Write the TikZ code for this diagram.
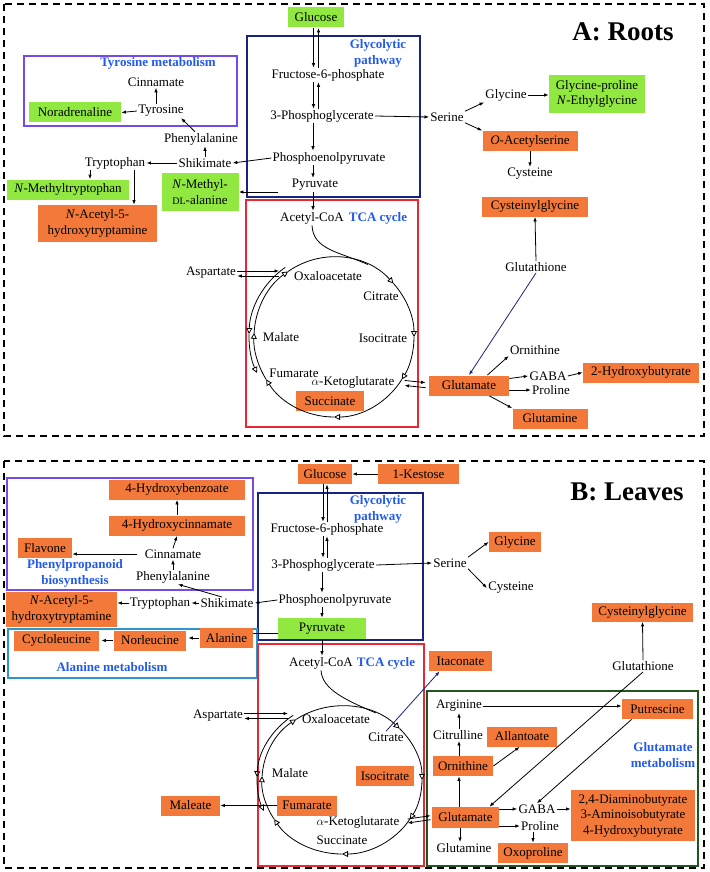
\documentclass[tikz,border=0pt]{standalone}
\usepackage{fontspec}
\setmainfont{Liberation Serif}
\usetikzlibrary{arrows.meta}
\definecolor{orng}{RGB}{242,121,58}
\definecolor{limegrn}{RGB}{144,232,64}
\definecolor{pathblue}{RGB}{35,90,235}
\definecolor{glynavy}{RGB}{25,35,130}
\definecolor{tcared}{RGB}{232,40,52}
\definecolor{tyrviolet}{RGB}{115,75,235}
\definecolor{alacyan}{RGB}{45,150,205}
\definecolor{glugreen}{RGB}{35,85,35}

\begin{document}
\begin{tikzpicture}[x=1pt,y=-1pt,line width=0.8pt,font=\fontsize{13}{15.5}\selectfont,
	every node/.style={inner sep=1pt},
	obox/.style={fill=orng,inner xsep=4pt,minimum height=20pt},
	gbox/.style={fill=limegrn,inner xsep=4pt,minimum height=20pt},
	ttl/.style={text=pathblue,font=\fontsize{13}{16}\selectfont\bfseries,align=center},
	paneltitle/.style={font=\fontsize{27}{30}\selectfont\bfseries},
	areabox/.style={line width=1.3pt},
	outer/.style={line width=1.6pt,dash pattern=on 7pt off 5pt},
	cyc/.style={-{Triangle[open,length=6pt,width=6pt]}},
	>={Latex[length=4.5pt,width=3.5pt]}]
	\useasboundingbox (0,0) rectangle (709,872);
	% A: Roots
	\draw[outer] (4,4) rectangle (704,436);
	\node[paneltitle] (ttlA) at (623,32) {A: Roots};
	\draw[areabox,glynavy] (247,36) rectangle (420,197);
	\draw[areabox,tcared] (246,200) rectangle (418,427);
	\draw[areabox,tyrviolet] (24,56) rectangle (237,126);
	\node[ttl] (glyttlA) at (378,53.5) {Glycolytic\\pathway};
	\node[ttl] (tcattlA) at (378,218) {TCA cycle};
	\node[ttl] (tyrttlA) at (158,63) {Tyrosine metabolism};

	\node[gbox,minimum width=56] (glcA) at (316,17.5) {Glucose};
	\node (f6pA) at (328,75) {Fructose-6-phosphate};
	\node (pgaA) at (322,116) {3-Phosphoglycerate};
	\node (pepA) at (329,158) {Phosphoenolpyruvate};
	\node (pyrA) at (315,185) {Pyruvate};
	\node (acoA) at (312,218) {Acetyl-CoA};
	\node (serA) at (447,117) {Serine};
	\node (glyA) at (506,95) {Glycine};
	\node[gbox,align=center,minimum width=96,minimum height=38] (gpeA) at (597,94) {Glycine-proline\\\textit{N}-Ethylglycine};
	\node[obox,minimum width=95] (oasA) at (530,141) {\textit{O}-Acetylserine};
	\node (cysA) at (530,174) {Cysteine};
	\node[obox,minimum width=106] (cygA) at (535,206.5) {Cysteinylglycine};
	\node (gshA) at (536,267) {Glutathione};
	\node[obox,minimum width=80] (gluA) at (469,385.5) {Glutamate};
	\node (ornA) at (535,350) {Ornithine};
	\node (gabA) at (548,376) {GABA};
	\node (proA) at (551,390) {Proline};
	\node[obox,minimum width=116] (hbuA) at (641,372.5) {2-Hydroxybutyrate};
	\node[obox,minimum width=75] (glnA) at (550,418.5) {Glutamine};

	\node (cinA) at (156,82) {Cinnamate};
	\node (tyrA) at (161,111) {Tyrosine};
	\node[gbox,minimum width=92] (norA) at (75,112.5) {Noradrenaline};
	\node (pheA) at (201,139) {Phenylalanine};
	\node (shkA) at (205,163) {Shikimate};
	\node (trpA) at (115,163) {Tryptophan};
	\node[gbox,minimum width=122] (mtrA) at (68,189.5) {\textit{N}-Methyltryptophan};
	\node[gbox,align=center,minimum width=77,minimum height=38] (malA) at (200,192) {\textit{N}-Methyl-\\{\fontsize{10}{12}\selectfont DL}-alanine};
	\node[obox,align=center,minimum width=119,minimum height=37] (nahA) at (97.5,223.5) {\textit{N}-Acetyl-5-\\hydroxytryptamine};

	\coordinate (cA) at (334,337);
	\node (aspA) at (211,273) {Aspartate};
	\coordinate (oaA) at (279,273);
	\node (oaaA) at (328,276) {Oxaloacetate};
	\node (citA) at (381,296) {Citrate};
	\node (icA) at (383,338) {Isocitrate};
	\node (akgA) at (353,382) {$\alpha$-Ketoglutarate};
	\node (fumA) at (294,373) {Fumarate};
	\node (mlaA) at (281,337) {Malate};
	\node[obox,minimum width=68] (sucA) at (330,401) {Succinate};

	\draw[<-] ([xshift=-2.5pt]glcA.south |- f6pA.north) -- ([xshift=-2.5pt]glcA.south);
	\draw[->] ([xshift=2.5pt]glcA.south |- f6pA.north) -- ([xshift=2.5pt]glcA.south);
	\draw[<-] ([xshift=-2.5pt]glcA.south |- pgaA.north) -- ([xshift=-2.5pt]glcA.south |- f6pA.south);
	\draw[->] ([xshift=2.5pt]glcA.south |- pgaA.north) -- ([xshift=2.5pt]glcA.south |- f6pA.south);
	\draw[->] ([xshift=-2pt]pyrA.north |- pgaA.south) -- ([xshift=-2pt]pyrA.north |- pepA.north);
	\draw[->] ([xshift=-2pt]pyrA.north |- pepA.south) -- ([xshift=-2pt]pyrA.north);
	\draw[->] ([xshift=-2pt]pyrA.south) -- ([xshift=-2pt]pyrA.south |- acoA.north);
	\draw[->] (pgaA.east) -- (serA.west);
	\draw[->] (serA.north east) -- (glyA.south west);
	\draw[->] (glyA.east) -- (gpeA.west |- glyA.east);
	\draw[->] (serA.south east) -- (oasA.north west);
	\draw[->] (oasA.south) -- (cysA.north);
	\draw[->] (gshA.north) -- (cygA.south);
	\draw[->,glynavy] (gshA.south) -- (gluA.north);
	\draw[->] ([xshift=-22pt]gluA.north east) -- (ornA.south west);
	\draw[->] ([yshift=7pt]gluA.east) -- (gabA.west);
	\draw[->] (gluA.east |- proA.west) -- (proA.west);
	\draw[->] ([xshift=-20pt]gluA.south east) -- (glnA.north west);
	\draw[->] (gabA.east) -- (hbuA.west);
	\draw[->,shorten <=9pt,shorten >=3pt] ([yshift=2.5pt]akgA.east) -- ([yshift=2.5pt]gluA.west);
	\draw[<-,shorten <=9pt,shorten >=3pt] ([yshift=-2.5pt]akgA.east) -- ([yshift=-2.5pt]gluA.west);

	\draw[->] (cinA.south |- tyrA.north) -- (cinA.south);
	\draw[->] (tyrA.west) -- (norA.east);
	\draw[->] ([xshift=-6pt]pheA.north) -- ([xshift=-4pt]tyrA.south east);
	\draw[->] (shkA.north) -- (shkA.north |- pheA.south);
	\draw[->] (shkA.west) -- (trpA.east);
	\draw[->] (pepA.west) -- (shkA.east);
	\draw[->] ([xshift=-25pt]trpA.south) -- ([xshift=-25pt]trpA.south |- mtrA.north);
	\draw[->] ([xshift=19pt]trpA.south) -- ([xshift=19pt]trpA.south |- nahA.north);
	\draw[->,shorten <=12pt] (pyrA.west |- malA.east) -- (malA.east);
	\draw[->] ([yshift=2pt]aspA.east) -- ([yshift=2pt]oaA);
	\draw[<-] ([yshift=-3pt]aspA.east) -- ([yshift=-3pt]oaA);

	\foreach \a/\b in {235/318,318/360,360/392,392/450,450/508,508/543,543/595}
		\draw[cyc] (cA) ++(\a:80) arc (\a:\b:80);
	\foreach \a/\b in {235/182,182/155}
		\draw[cyc] (cA) ++(\a:85) arc (\a:\b:85);
	\path (cA) ++(295:80) coordinate (jA);
	\draw (acoA.south) .. controls (313,250) and (340,252) .. (jA);

	% B: Leaves
	\draw[outer] (4,461) rectangle (704,868);
	\node[paneltitle] (ttlB) at (627,492) {B: Leaves};
	\draw[areabox,tyrviolet] (7,478) rectangle (253,590);
	\draw[areabox,glynavy] (258,493) rectangle (423,640);
	\draw[areabox,alacyan] (8,629) rectangle (257,678);
	\draw[areabox,tcared] (258,644) rectangle (424,866);
	\draw[areabox,glugreen] (427,691) rectangle (698,866);
	\node[ttl] (glyttlB) at (378,509) {Glycolytic\\pathway};
	\node[ttl] (tcattlB) at (386,663) {TCA cycle};
	\node[ttl] (ppbttlB) at (75,573) {Phenylpropanoid\\biosynthesis};
	\node[ttl] (alattlB) at (112,667) {Alanine metabolism};
	\node[ttl] (gluttlB) at (663,755) {Glutamate\\metabolism};

	\node[obox,minimum width=54] (glcB) at (325,474) {Glucose};
	\node[obox,minimum width=81] (kesB) at (418.5,474) {1-Kestose};
	\node (f6pB) at (327,529) {Fructose-6-phosphate};
	\node (pgaB) at (323,565) {3-Phosphoglycerate};
	\node (pepB) at (335,600) {Phosphoenolpyruvate};
	\node[gbox,minimum width=88,minimum height=21] (pyrB) at (322,628.5) {Pyruvate};
	\node (acoB) at (321,663) {Acetyl-CoA};
	\node (serB) at (450,563) {Serine};
	\node[obox,minimum width=52] (glyB) at (515,542) {Glycine};
	\node (cysB) at (511,588) {Cysteine};

	\node[obox,minimum width=136] (hbzB) at (177,489.5) {4-Hydroxybenzoate};
	\node[obox,minimum width=136] (hcnB) at (177,525.5) {4-Hydroxycinnamate};
	\node[obox,minimum width=54] (flaB) at (45,548) {Flavone};
	\node (cinB) at (173,554) {Cinnamate};
	\node (pheB) at (173,577) {Phenylalanine};
	\node[obox,align=center,minimum width=111,minimum height=35] (nahB) at (61.5,609.5) {\textit{N}-Acetyl-5-\\hydroxytryptamine};
	\node (trpB) at (160,603) {Tryptophan};
	\node (shkB) at (227,603) {Shikimate};
	\node[obox,minimum width=85] (cleB) at (56.5,640.5) {Cycloleucine};
	\node[obox,minimum width=72] (nleB) at (150,640.5) {Norleucine};
	\node[obox,minimum width=53] (alaB) at (226.5,638) {Alanine};

	\coordinate (cB) at (342,780);
	\node (aspB) at (218,716) {Aspartate};
	\coordinate (oaB) at (288,716);
	\node (oaaB) at (336,719) {Oxaloacetate};
	\node (citB) at (386,737) {Citrate};
	\node (mlaB) at (290,773) {Malate};
	\node[obox,minimum width=58] (icB) at (385,776) {Isocitrate};
	\node[obox,minimum width=60] (fumB) at (307,805.5) {Fumarate};
	\node[obox,minimum width=59] (mleB) at (190.5,805.5) {Maleate};
	\node (akgB) at (358,822) {$\alpha$-Ketoglutarate};
	\node (sucB) at (342,840) {Succinate};
	\node[obox,minimum width=63] (itaB) at (460.5,661) {Itaconate};

	\node[obox,minimum width=101,minimum height=19] (cygB) at (642.5,612) {Cysteinylglycine};
	\node (gshB) at (643,666) {Glutathione};
	\node (argB) at (459,706) {Arginine};
	\node (ctlB) at (458,735) {Citrulline};
	\node[obox,minimum width=60] (ornB) at (463,766) {Ornithine};
	\node[obox,minimum width=70] (altB) at (522,736.5) {Allantoate};
	\node[obox,minimum width=71] (putB) at (657.5,709) {Putrescine};
	\node[obox,minimum width=67,minimum height=21] (gluB) at (465.5,817.5) {Glutamate};
	\node (gabB) at (537,809) {GABA};
	\node (proB) at (540,826) {Proline};
	\node (glnB) at (464,848) {Glutamine};
	\node[obox,minimum width=70] (oxoB) at (533,853) {Oxoproline};
	\node[obox,align=center,minimum width=124,minimum height=51] (triB) at (633,815.5) {2,4-Diaminobutyrate\\3-Aminoisobutyrate\\4-Hydroxybutyrate};

	\draw[->] (kesB.west) -- (glcB.east);
	\draw[->] ([xshift=-2pt]glcB.south) -- ([xshift=-2pt]glcB.south |- f6pB.north);
	\draw[<-] ([xshift=2pt]glcB.south) -- ([xshift=2pt]glcB.south |- f6pB.north);
	\draw[->] ([xshift=-2pt]glcB.south |- f6pB.south) -- ([xshift=-2pt]glcB.south |- pgaB.north);
	\draw[<-] ([xshift=2pt]glcB.south |- f6pB.south) -- ([xshift=2pt]glcB.south |- pgaB.north);
	\draw[->] (pyrB.north |- pgaB.south) -- (pyrB.north |- pepB.north);
	\draw[->] (pyrB.north |- pepB.south) -- (pyrB.north);
	\draw[->] (pyrB.south) -- (pyrB.south |- acoB.north);
	\draw[->] (pgaB.east) -- (serB.west);
	\draw[->] (serB.north east) -- (glyB.west);
	\draw[->] (serB.south east) -- (cysB.west);
	\draw[->] (pepB.west) -- (shkB.east);
	\draw[->] (shkB.west) -- (trpB.east);
	\draw[->] (trpB.west) -- (nahB.east |- trpB.west);
	\draw[->] ([xshift=-5pt]shkB.north) -- ([xshift=5pt]pheB.south);
	\draw[->] (pheB.north) -- (cinB.south);
	\draw[->] (cinB.north) -- (hcnB.south);
	\draw[->] (hcnB.north) -- (hbzB.south);
	\draw[->,shorten <=6pt] (cinB.west) -- (flaB.east |- cinB.west);
	\draw ([yshift=-5pt]pyrB.west) -- ([yshift=-5pt]pyrB.west -| alaB.east);
	\draw[->,shorten <=1pt,shorten >=2pt] (alaB.west) -- (nleB.east |- alaB.west);
	\draw[->,shorten <=1pt,shorten >=2pt] (nleB.west) -- (cleB.east);
	\draw[->] ([yshift=2.5pt]aspB.east) -- ([yshift=2.5pt]oaB);
	\draw[<-] ([yshift=-2.5pt]aspB.east) -- ([yshift=-2.5pt]oaB);
	\draw[->] (fumB.west) -- (mleB.east);
	\draw[->,glynavy] (citB.north) -- ([xshift=11pt]itaB.south west);
	\draw[->,shorten <=7pt,shorten >=1pt] ([yshift=2pt]akgB.east) -- ([yshift=2pt]gluB.west);
	\draw[<-,shorten <=7pt,shorten >=1pt] ([yshift=-2pt]akgB.east) -- ([yshift=-2pt]gluB.west);

	\draw[->] ([xshift=-4pt]ornB.south |- gluB.north) -- ([xshift=-4pt]ornB.south);
	\draw[->] ([xshift=-4pt]ornB.north) -- ([xshift=-4pt]ornB.north |- ctlB.south);
	\draw[->] (argB.south |- ctlB.north) -- (argB.south);
	\draw[->] (argB.east) -- (putB.west |- argB.east);
	\draw[->] (ornB.east) -- ([xshift=33pt]altB.south west);
	\draw[->] ([xshift=10pt]putB.south west) -- (gabB.north);
	\draw[->] (gshB.south) -- ([xshift=-10pt]gluB.north east);
	\draw[->] (gshB.north) -- (cygB.south);
	\draw[->] (gluB.east |- gabB.west) -- (gabB.west);
	\draw[->] (gluB.east |- proB.west) -- (proB.west);
	\draw[->] (gabB.east) -- (triB.west |- gabB.east);
	\draw[->] (oxoB.north |- proB.south) -- (oxoB.north);
	\draw[->] ([xshift=-4pt]glnB.north |- gluB.south) -- ([xshift=-4pt]glnB.north);

	\foreach \a/\b in {235/316,316/360,360/392,392/450,450/508,508/543,543/595}
		\draw[cyc] (cB) ++(\a:80 and 74) arc[start angle=\a,end angle=\b,x radius=80,y radius=74];
	\foreach \a/\b in {235/182,182/157}
		\draw[cyc] (cB) ++(\a:85 and 79) arc[start angle=\a,end angle=\b,x radius=85,y radius=79];
	\path (cB) ++(295:80 and 74) coordinate (jB);
	\draw (acoB.south) .. controls (322,690) and (348,701) .. (jB);
\end{tikzpicture}
\end{document}
